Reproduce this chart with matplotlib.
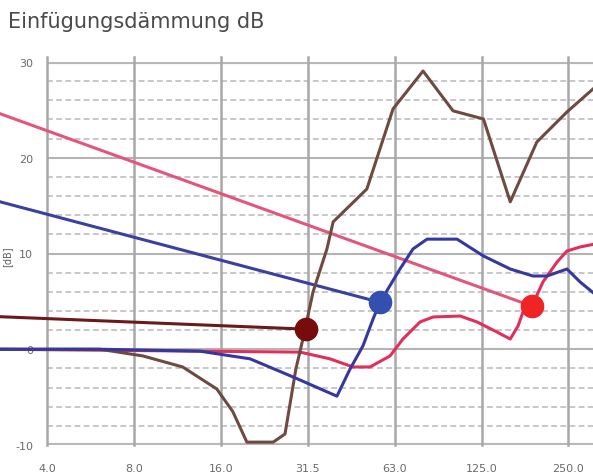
import numpy as np
import matplotlib.pyplot as plt
from matplotlib.ticker import NullLocator

# Oktavband-Achse
tick_freqs = [4, 8, 16, 32, 64, 128, 256]
tick_labels = ["4.0", "8.0", "16.0", "31.5", "63.0", "125.0", "250.0"]
y_ticks = [-10, 0, 10, 20, 30]

# Geraden (Massegesetz-Verlängerung) bis zum jeweiligen Punkt
pink_line_f = [2.75, 191.5]
pink_line_db = [24.6, 4.5]
blue_line_f = [2.75, 57.0]
blue_line_db = [15.4, 4.9]
darkred_line_f = [2.75, 31.5]
darkred_line_db = [3.4, 2.1]

# Punkte
dot_f = [31.5, 57.0, 191.5]
dot_db = [2.1, 4.9, 4.5]

# Kurven
red_f = [2.75, 6.1, 13.55, 30.1, 38.2, 45.9, 52.6, 61.7, 68.4, 78.4, 87.0, 108,
         123.5, 144.8, 161, 171.3, 178.2, 191.5, 209, 233.8, 253, 280.9, 330]
red_db = [0.0, -0.1, -0.2, -0.3, -1.0, -1.85, -1.85, -0.7, 1.07, 2.85, 3.37, 3.47,
          2.85, 1.8, 1.07, 2.43, 3.89, 4.52, 7.03, 9.11, 10.26, 10.68, 11.1]

blue_f = [2.75, 6.1, 13.55, 20.2, 28.5, 40.4, 44.8, 49.7, 53.9, 57.0, 66.8, 74.1,
          82.9, 105.3, 130, 161, 193, 216, 253, 281, 330]
blue_db = [0.0, 0.0, -0.2, -1.0, -2.9, -4.9, -2.1, 0.34, 3.16, 4.93, 8.38, 10.47,
           11.5, 11.5, 9.74, 8.38, 7.65, 7.65, 8.38, 7.03, 5.3]

brown_f = [2.75, 6.1, 8.6, 11.8, 15.5, 17.6, 19.7, 24.3, 26.7, 27.8, 29.1, 30.8,
           33.4, 37.3, 39.2, 51.3, 63.2, 80.3, 102, 130, 161, 199, 253, 312, 330]
brown_db = [0.0, 0.0, -0.7, -1.85, -4.15, -6.5, -9.7, -9.7, -8.85, -5.7, -2.1, 1.07,
            6.0, 10.47, 13.3, 16.74, 25.1, 29.06, 24.9, 24.05, 15.4, 21.64, 24.78, 27.2, 27.7]

fig = plt.figure(figsize=(5.93, 4.77), dpi=100)
ax = fig.add_axes([47 / 593, 1 - 446 / 477, (593 - 47) / 593, (446 - 63) / 477])
ax.set_xscale('log', base=2)
ax.set_xlim(4, 4 * 2 ** ((593 - 47) / 86.9))
ax.set_ylim(-10, 30)
for s in ax.spines.values():
    s.set_visible(False)

# Gitter
for v in range(-8, 30, 2):
    if v % 10:
        ax.axhline(v, color='#bdbdbd', lw=1.2, ls=(0, (3.5, 2)), zorder=0)
for v in [0, 10, 20]:
    ax.axhline(v, color='#b4b4b4', lw=1.5, zorder=0)
for v in [-10, 30]:
    ax.axhline(v, color='#b8b8b8', lw=3, zorder=0)
for f in tick_freqs:
    ax.axvline(f, ymax=1.012, color='#a8a8a8', lw=1.8, zorder=0, clip_on=False)

ax.set_xticks(tick_freqs, tick_labels)
ax.xaxis.set_minor_locator(NullLocator())
ax.set_yticks(y_ticks, [str(v) for v in y_ticks])
ax.tick_params(axis='x', length=0, pad=13, labelsize=8, labelcolor='#6a6a6a')
ax.tick_params(axis='y', length=0, pad=10, labelsize=8, labelcolor='#6a6a6a')

lw = 2.2
ax.plot(pink_line_f, pink_line_db, color='#e4557a', lw=lw, clip_on=False, zorder=2)
ax.plot(darkred_line_f, darkred_line_db, color='#6a1a1a', lw=lw, clip_on=False, zorder=2)
ax.plot(blue_line_f, blue_line_db, color='#3a3fa0', lw=lw, clip_on=False, zorder=2)
ax.plot(red_f, red_db, color='#e0305a', lw=lw, clip_on=False, zorder=3)
ax.plot(brown_f, brown_db, color='#6e4a40', lw=lw, clip_on=False, zorder=3)
ax.plot(blue_f, blue_db, color='#3538a0', lw=lw, clip_on=False, zorder=4)

dot_colors = ['#760c0c', '#3350b0', '#f02424']
for f, d, c in zip(dot_f, dot_db, dot_colors):
    ax.plot(f, d, 'o', color=c, ms=16, clip_on=False, zorder=5)

fig.text(8 / 593, 1 - 22 / 477, "Einfügungsdämmung dB", fontsize=15, color='#4a4a4a',
         ha='left', va='center')
fig.text(7 / 593, 1 - 257 / 477, "[dB]", rotation=90, fontsize=7, color='#606060',
         ha='center', va='center')

fig.savefig('out.png', dpi=100)
